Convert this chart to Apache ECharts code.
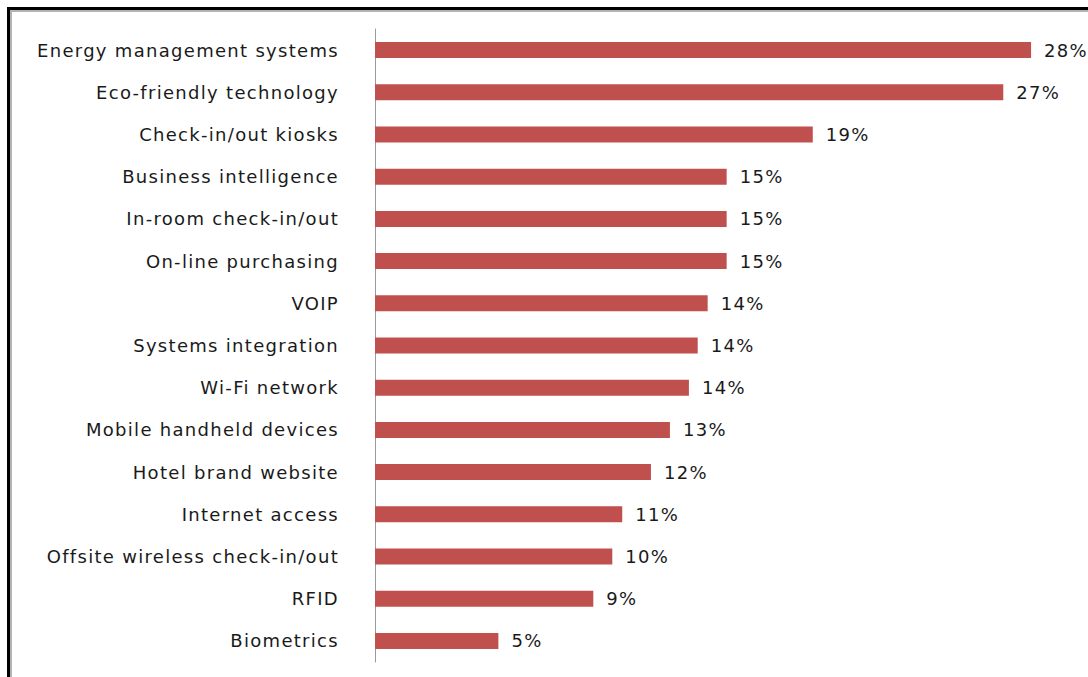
<!DOCTYPE html>
<html>
<head>
<meta charset="utf-8">
<script src="https://cdn.jsdelivr.net/npm/echarts@6/dist/echarts.min.js"></script>
<style>
  html, body { margin: 0; padding: 0; background: #fff; }
  #wrap { position: relative; width: 1088px; height: 677px; overflow: hidden; background: #fff; }
  #frame {
    position: absolute; left: 7px; top: 7px; width: 1200px; height: 800px;
    border-left: 3px solid #000; border-top: 3px solid #000;
    box-shadow: inset 2px 2px 0 #b4b4b4;
    box-sizing: border-box;
  }
  #chart { position: absolute; left: 0; top: 0; width: 1088px; height: 677px; }
  /* the category and value labels are set slightly tracked out */
  #chart text { letter-spacing: 1.3px; }
</style>
</head>
<body>
<div id="wrap">
  <div id="frame"></div>
  <div id="chart"></div>
</div>
<script>
// Technology investment priorities, share of respondents (%)
const categories = [
  'Energy management systems',
  'Eco-friendly technology',
  'Check-in/out kiosks',
  'Business intelligence',
  'In-room check-in/out',
  'On-line purchasing',
  'VOIP',
  'Systems integration',
  'Wi-Fi network',
  'Mobile handheld devices',
  'Hotel brand website',
  'Internet access',
  'Offsite wireless check-in/out',
  'RFID',
  'Biometrics'
];
const shares = [28.34, 27.14, 18.91, 15.19, 15.19, 15.19, 14.37, 13.94, 13.56, 12.74, 11.92, 10.68, 10.25, 9.43, 5.33];

const chart = echarts.init(document.getElementById('chart'), null, { renderer: 'svg' });
const font = 'DejaVu Sans';

chart.setOption({
  animation: false,
  backgroundColor: 'transparent',
  grid: { left: 375, right: 18.5, top: 29, bottom: 15, containLabel: false },
  xAxis: {
    type: 'value', min: 0, max: 30,
    show: false
  },
  yAxis: {
    type: 'category',
    inverse: true,
    data: categories,
    axisLine: { show: true, lineStyle: { color: '#9a9a9a', width: 1 } },
    axisTick: { show: false },
    splitLine: { show: false },
    axisLabel: {
      margin: 36,
      color: '#1a1a1a',
      fontFamily: font,
      fontSize: 18
    }
  },
  series: [{
    type: 'bar',
    data: shares,
    barWidth: 16,
    itemStyle: { color: '#C0504D' },
    label: {
      show: true,
      position: 'right',
      distance: 13,
      color: '#1a1a1a',
      fontFamily: font,
      fontSize: 18,
      formatter: p => Math.round(p.value) + '%'
    }
  }]
});
</script>
</body>
</html>
